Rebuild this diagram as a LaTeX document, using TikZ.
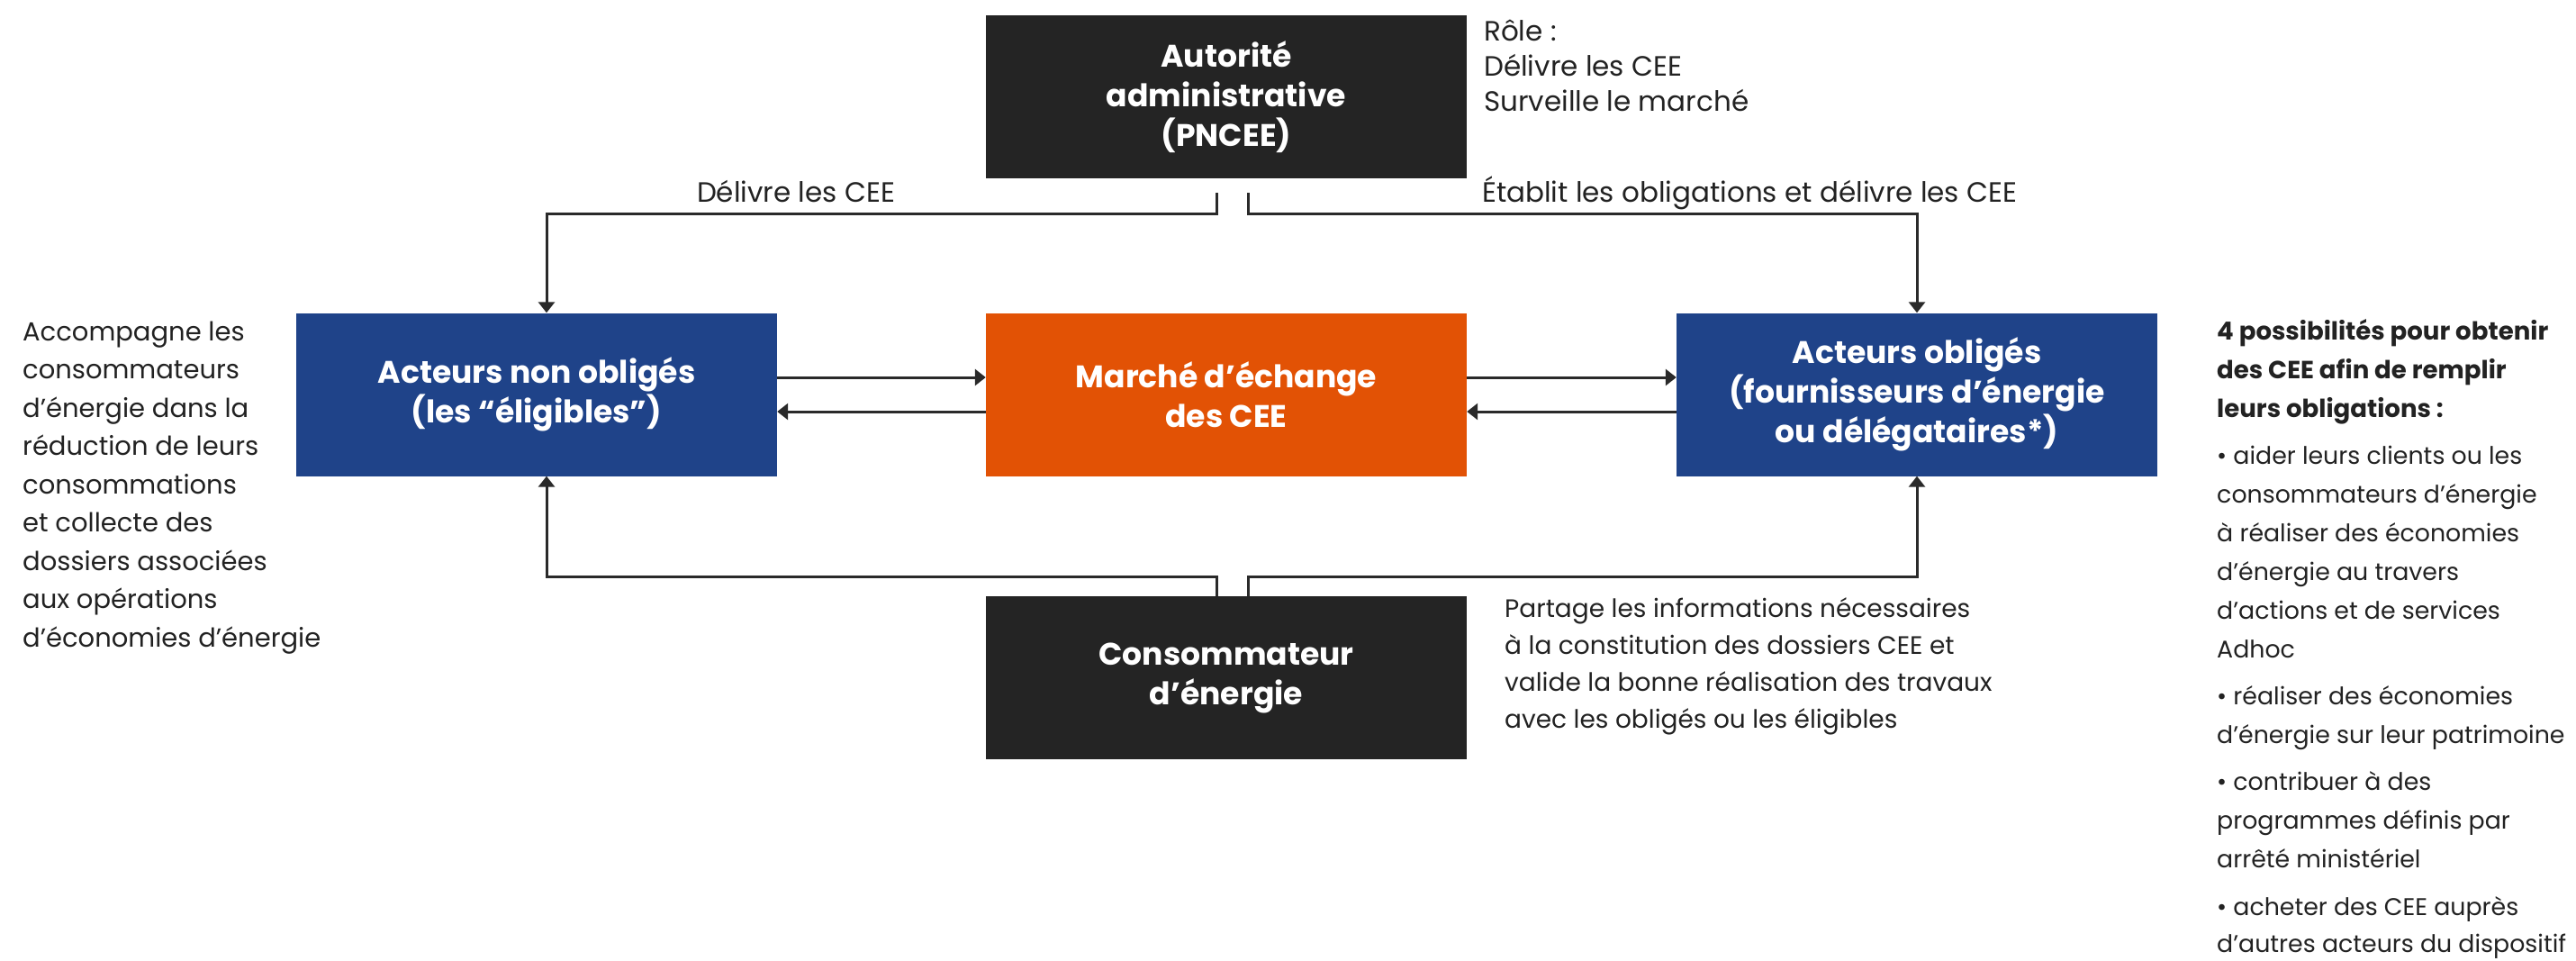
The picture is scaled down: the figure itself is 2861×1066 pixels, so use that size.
\documentclass[tikz,border=0pt]{standalone}
\usepackage{fontspec}
\setmainfont{Poppins}
\usetikzlibrary{arrows.meta}
\definecolor{darkbox}{HTML}{242424}
\definecolor{bluebox}{HTML}{1F4389}
\definecolor{orangebox}{HTML}{E25205}
\definecolor{ink}{HTML}{222222}
\definecolor{wire}{HTML}{2A2A2A}
\begin{document}
\begin{tikzpicture}[x=1pt,y=-1pt,
  box/.style={minimum width=534pt, minimum height=181pt, inner sep=0pt, text=white, align=center, font=\fontsize{34.6}{44}\selectfont\bfseries},
  txt/.style={text=ink, inner sep=0pt, anchor=base west, font=\fontsize{28}{40}\selectfont},
  txtr/.style={txt, font=\fontsize{26.8}{40}\selectfont},
  txtl/.style={txt, font=\fontsize{29}{40}\selectfont},
  txtc/.style={txt, font=\fontsize{31}{40}\selectfont},
  txtb/.style={txt, font=\fontsize{27.6}{40}\selectfont\bfseries},
  conn/.style={draw=wire, line width=3pt},
  arr/.style={conn, -{Triangle[length=12pt,width=18pt]}}]
\useasboundingbox[fill=white] (0,0) rectangle (2861,1066);

% boxes
\node[box, fill=darkbox] (aut) at (1362,107.5) {Autorité\\administrative\\(PNCEE)};
\node[box, fill=bluebox] (left) at (596,438) {Acteurs non obligés\\(les “éligibles”)};
\node[box, fill=orangebox] (mkt) at (1362,438) {Marché d’échange\\des CEE};
\node[box, fill=bluebox] (right) at (2129,438) {Acteurs obligés\\(fournisseurs d’énergie\\ou délégataires*)};
\node[box, fill=darkbox] (cons) at (1362,752.5) {Consommateur\\d’énergie};

% top connectors
\coordinate (ts1) at (1351,214);
\coordinate (ts2) at (1386,214);
\coordinate (tl) at (607,237);
\coordinate (tr) at (2129,237);
\draw[arr] (ts1) |- (tl) -- ([xshift=11pt]left.north);
\draw[arr] (ts2) |- (tr) -- (right.north);

% bottom connectors
\coordinate (bs1) at (1351,640);
\coordinate (bs2) at (1386,640);
\draw[arr] (cons.north -| bs1) -- (bs1) -| ([xshift=11pt]left.south);
\draw[arr] (cons.north -| bs2) -- (bs2) -| (right.south);

% horizontal exchanges
\draw[arr] ([yshift=19pt]left.east) -- ([yshift=19pt]mkt.west);
\draw[arr] ([yshift=-19pt]mkt.west) -- ([yshift=-19pt]left.east);
\draw[arr] ([yshift=19pt]mkt.east) -- ([yshift=19pt]right.west);
\draw[arr] ([yshift=-19pt]right.west) -- ([yshift=-19pt]mkt.east);

% connector labels
\node[txtc, anchor=base] (l1) at (884,224) {Délivre les CEE};
\node[txtc] (l2) at (1646,224) {Établit les obligations et délivre les CEE};

% role
\foreach \yy/\tx [count=\i] in {45/{Rôle :},84/{Délivre les CEE},123/{Surveille le marché}}
  \node[txtc] (r\i) at (1648,\yy) {\tx};

% partage
\foreach \yy/\tx [count=\i] in {685/{Partage les informations nécessaires},726/{à la constitution des dossiers CEE et},767/{valide la bonne réalisation des travaux},808/{avec les obligés ou les éligibles}}
  \node[txt] (p\i) at (1671,\yy) {\tx};

% left text
\foreach \yy/\tx [count=\i] in {378/{Accompagne les},420.5/{consommateurs},463/{d’énergie dans la},505.5/{réduction de leurs},548/{consommations},590.5/{et collecte des},633/{dossiers associées},675.5/{aux opérations},718/{d’économies d’énergie}}
  \node[txtl] (a\i) at (25,\yy) {\tx};

% right text
\foreach \yy/\tx [count=\i] in {377/{4 possibilités pour obtenir},420/{des CEE afin de remplir},463/{leurs obligations :}}
  \node[txtb] (h\i) at (2462,\yy) {\tx};
\foreach \yy/\tx [count=\i] in {515/{• aider leurs clients ou les},558/{consommateurs d’énergie},601/{à réaliser des économies},644/{d’énergie au travers},687/{d’actions et de services},730/{Adhoc},782/{• réaliser des économies},825/{d’énergie sur leur patrimoine},877/{• contribuer à des},920/{programmes définis par},963/{arrêté ministériel},1016/{• acheter des CEE auprès},1057/{d’autres acteurs du dispositif}}
  \node[txtr] (b\i) at (2462,\yy) {\tx};
\end{tikzpicture}
\end{document}
